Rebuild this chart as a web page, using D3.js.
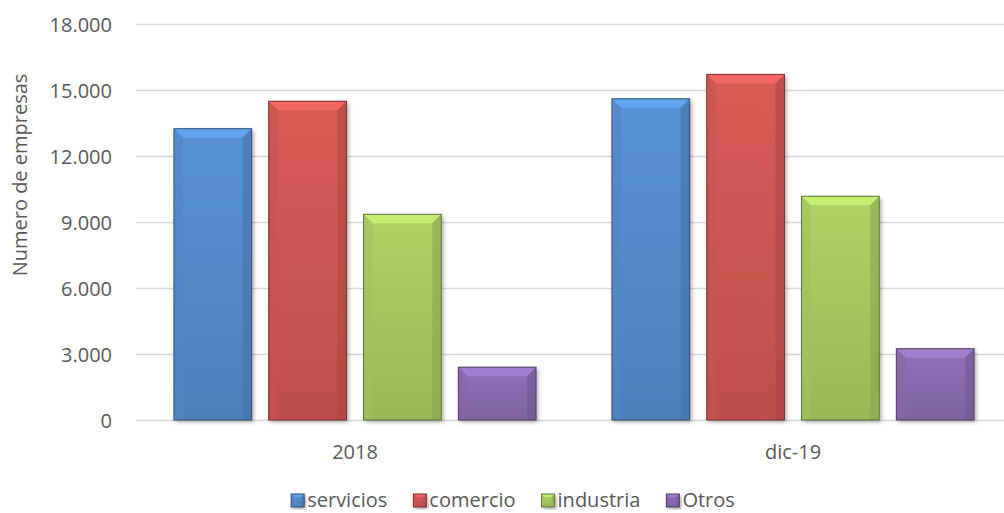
<!DOCTYPE html>
<html>
<head>
<meta charset="utf-8">
<script src="https://cdn.jsdelivr.net/npm/d3@7"></script>
<style>
  body { margin: 0; background: #fff; }
  text { font-family: "Open Sans", sans-serif; fill: #595959; }
</style>
</head>
<body>
<div id="chart"></div>
<script>
// data
const categories = ["2018", "dic-19"];
const series = ["servicios", "comercio", "industria", "Otros"];
const servicios = [13240, 14600];
const comercio = [14490, 15710];
const industria = [9350, 10170];
const otros = [2400, 3240];
const yTicks = [0, 3000, 6000, 9000, 12000, 15000, 18000];

const colors = ["#4f81bd", "#c0504d", "#9bbb59", "#8064a2"];
const values = [servicios, comercio, industria, otros];

const w = 1004, h = 513;
const plotLeft = 136, plotRight = 1012, plotTop = 24, plotBottom = 420;
const fontSize = 20;

const svg = d3.select("#chart").append("svg")
  .attr("width", w).attr("height", h);

const defs = svg.append("defs");
// soft shadow under each bar
defs.append("filter").attr("id", "shadow")
  .attr("x", "-20%").attr("y", "-20%").attr("width", "140%").attr("height", "140%")
  .append("feDropShadow")
  .attr("dx", 2).attr("dy", 2).attr("stdDeviation", 2)
  .attr("flood-color", "#000").attr("flood-opacity", 0.35);

colors.forEach((c, i) => {
  const g = defs.append("linearGradient").attr("id", "grad" + i)
    .attr("x1", 0).attr("y1", 0).attr("x2", 0).attr("y2", 1);
  g.append("stop").attr("offset", "0%").attr("stop-color", d3.color(c).brighter(0.35));
  g.append("stop").attr("offset", "100%").attr("stop-color", d3.color(c).darker(0.05));
});

// scales
const x0 = d3.scaleBand().domain(categories).range([plotLeft, plotRight]);
const x1 = d3.scaleBand().domain(series).range([0, x0.bandwidth()])
  .paddingInner(0.18).paddingOuter(0.4);
const y = d3.scaleLinear().domain([0, 18000]).range([plotBottom, plotTop]);

const locale = d3.formatLocale({ decimal: ",", thousands: ".", grouping: [3], currency: ["", ""] });
const fmt = locale.format(",");

// y axis + gridlines
const yAxis = svg.append("g")
  .attr("transform", `translate(${plotLeft},0)`)
  .call(d3.axisLeft(y).tickValues(yTicks).tickFormat(fmt)
    .tickSize(-(w - plotLeft)).tickPadding(24));
yAxis.select(".domain").remove();
yAxis.selectAll(".tick line").attr("stroke", "#d9d9d9").attr("stroke-width", 1.5);
yAxis.selectAll(".tick text")
  .attr("font-size", fontSize).attr("font-family", "Open Sans").attr("fill", "#595959")
  .attr("dy", "0.36em");

// x axis labels
const xAxis = svg.append("g")
  .attr("transform", `translate(0,${plotBottom})`)
  .call(d3.axisBottom(x0).tickSize(0).tickPadding(25));
xAxis.select(".domain").remove();
xAxis.selectAll(".tick text")
  .attr("font-size", fontSize).attr("font-family", "Open Sans").attr("fill", "#595959");

// bevelled bar
function bevelBar(g, bx, by, bw, bh, i, b) {
  const c = colors[i];
  g.append("rect")
    .attr("x", bx).attr("y", by).attr("width", bw).attr("height", bh)
    .attr("fill", `url(#grad${i})`).attr("filter", "url(#shadow)");
  // top bevel
  g.append("polygon")
    .attr("points", [[bx, by], [bx + bw, by], [bx + bw - b, by + b], [bx + b, by + b]].join(" "))
    .attr("fill", d3.color(c).brighter(0.7)).attr("opacity", 0.9);
  // left bevel
  g.append("polygon")
    .attr("points", [[bx, by], [bx + b, by + b], [bx + b, by + bh], [bx, by + bh]].join(" "))
    .attr("fill", d3.color(c).brighter(0.1)).attr("opacity", 0.6);
  // right bevel
  g.append("polygon")
    .attr("points", [[bx + bw, by], [bx + bw - b, by + b], [bx + bw - b, by + bh], [bx + bw, by + bh]].join(" "))
    .attr("fill", d3.color(c).darker(0.35)).attr("opacity", 0.6);
  g.append("rect")
    .attr("x", bx).attr("y", by).attr("width", bw).attr("height", bh)
    .attr("fill", "none").attr("stroke", d3.color(c).darker(1.3)).attr("stroke-width", 1);
}

const bars = svg.append("g");
categories.forEach((cat, ci) => {
  series.forEach((s, si) => {
    const v = values[si][ci];
    const bx = x0(cat) + x1(s);
    bevelBar(bars.append("g"), bx, y(v), x1.bandwidth(), y(0) - y(v), si, 9);
  });
});

// y axis title
svg.append("text")
  .attr("transform", "translate(27,175) rotate(-90)")
  .attr("text-anchor", "middle")
  .attr("font-size", fontSize)
  .text("Numero de empresas");

// legend
const legend = svg.append("g");
const sw = 13, legendY = 507;
let lx = 0;
series.forEach((s, i) => {
  const item = legend.append("g").attr("transform", `translate(${lx},0)`);
  bevelBar(item, 0, legendY - 13, sw, sw, i, 3);
  const t = item.append("text")
    .attr("x", sw + 3).attr("y", legendY)
    .attr("font-size", fontSize).text(s);
  lx += sw + 3 + t.node().getComputedTextLength() + 26;
});
const legendW = lx - 26;
legend.attr("transform", `translate(${513 - legendW / 2},0)`);
</script>
</body>
</html>
